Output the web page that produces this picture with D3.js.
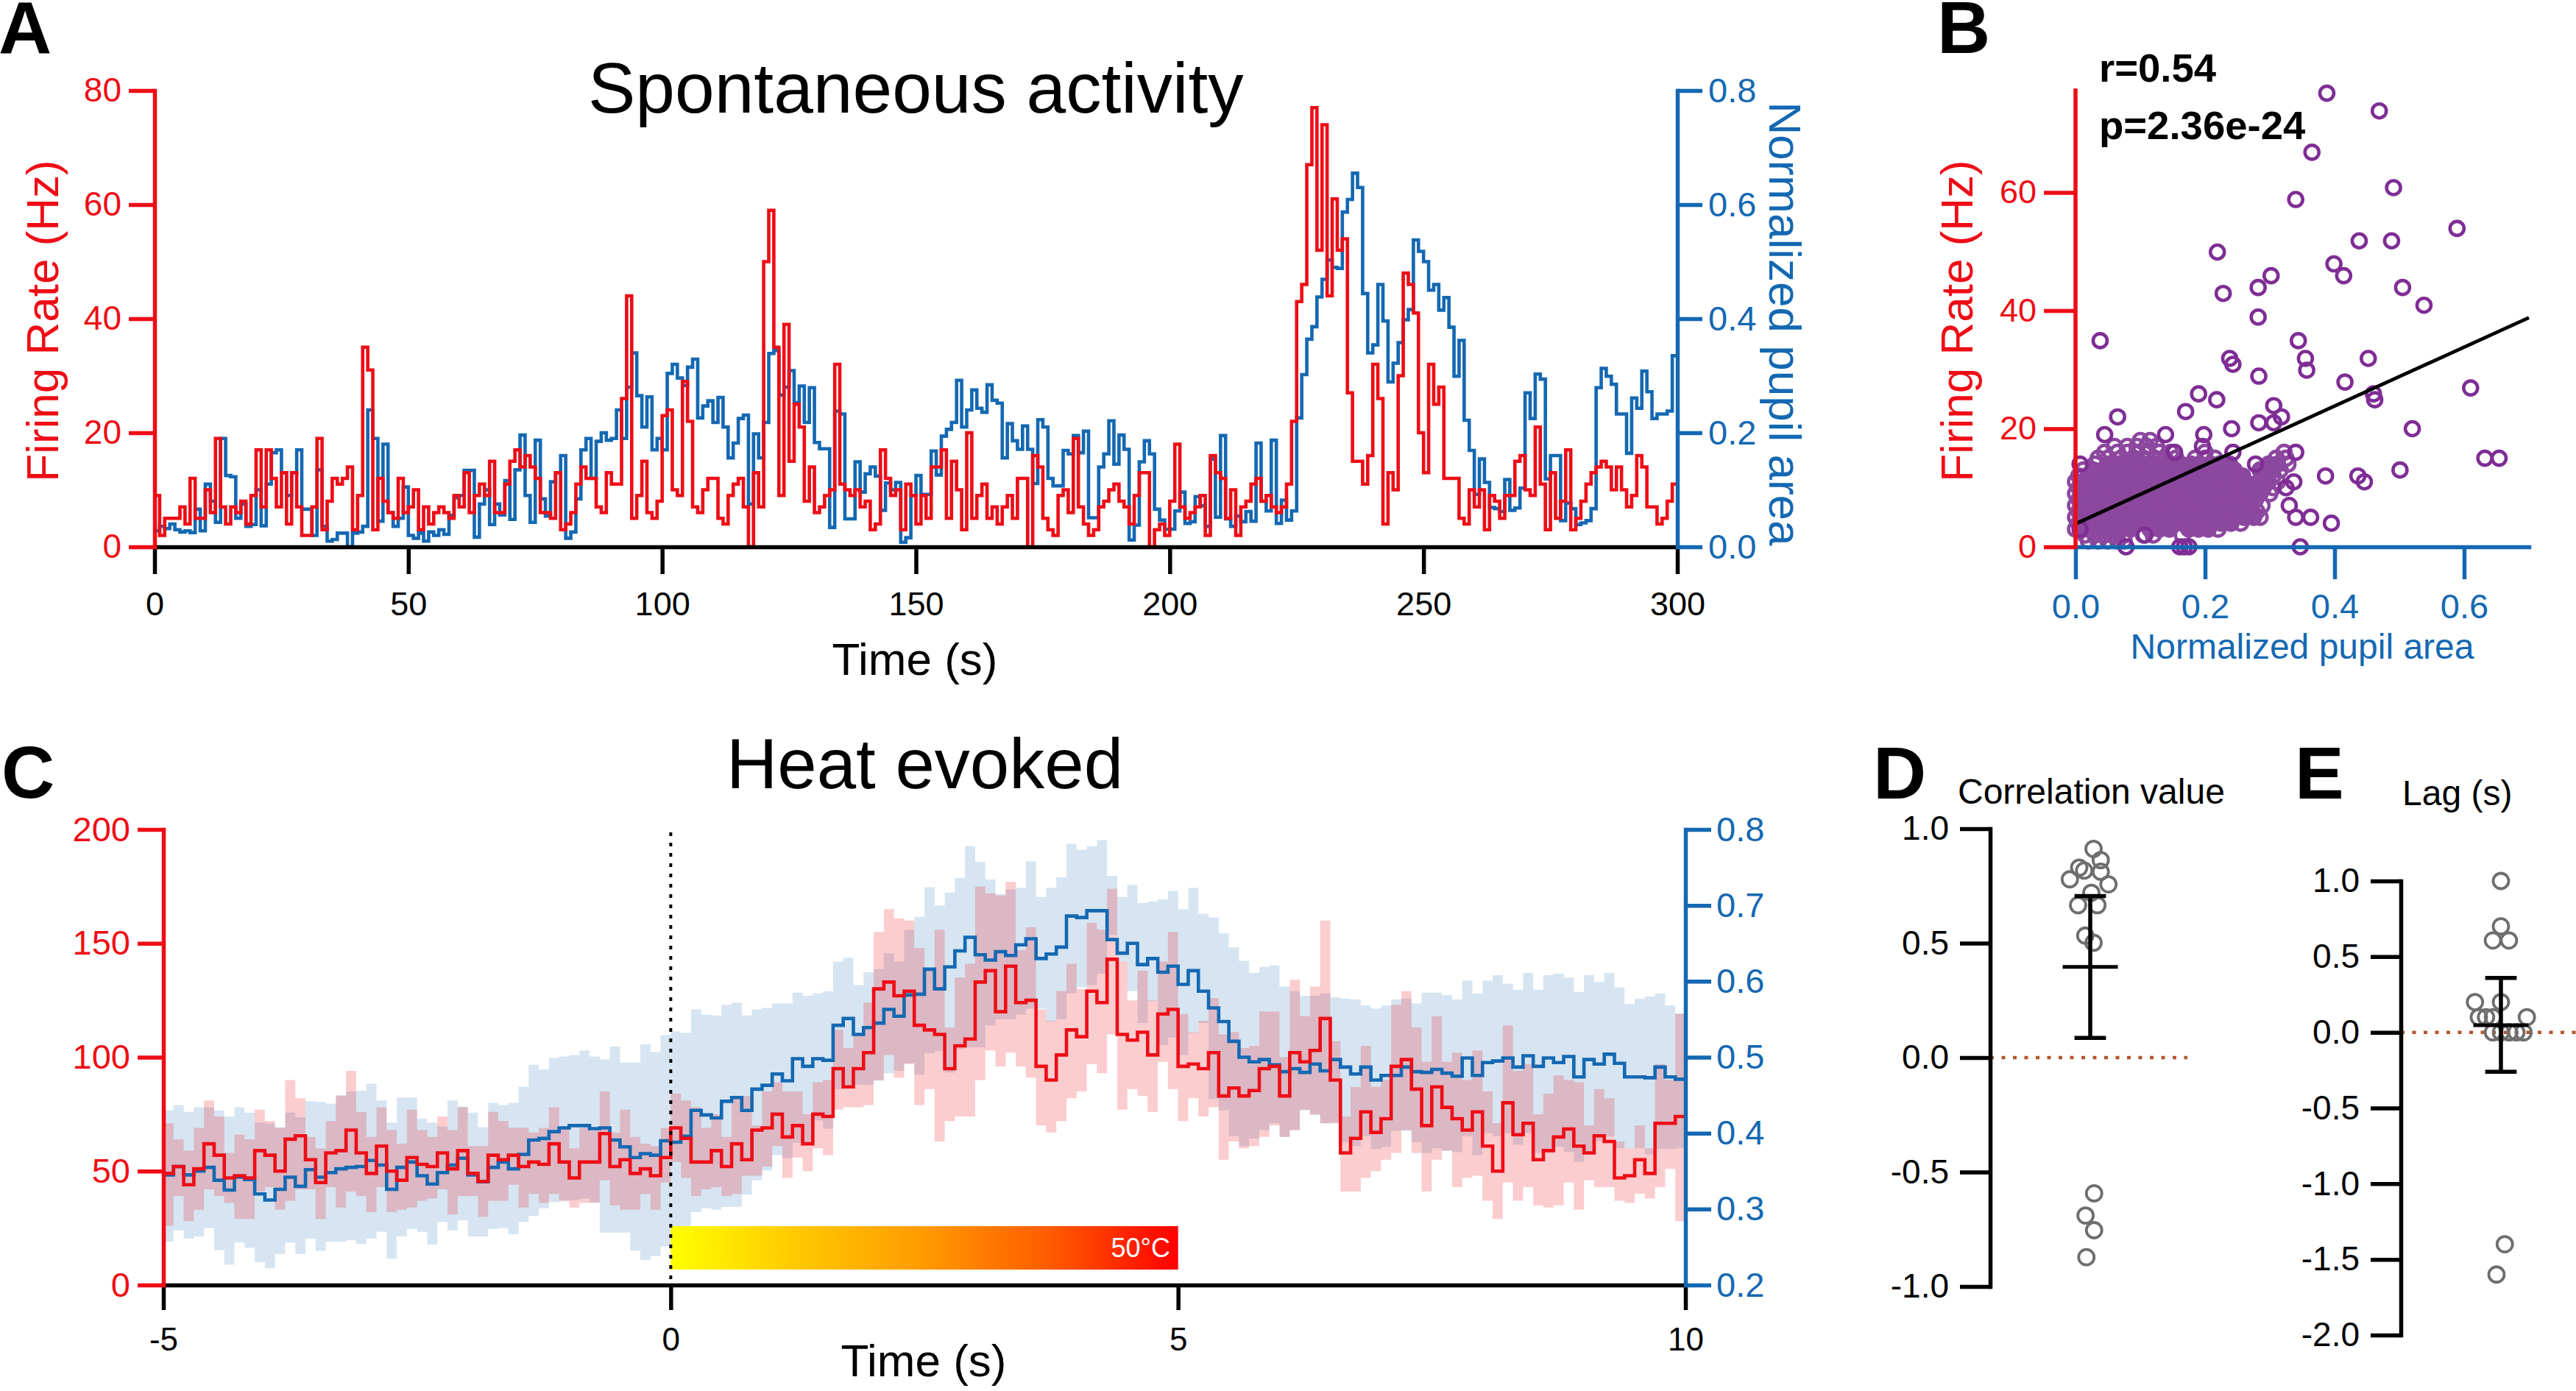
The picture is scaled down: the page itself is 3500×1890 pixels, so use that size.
<!DOCTYPE html>
<html>
<head>
<meta charset="utf-8">
<script src="https://cdn.jsdelivr.net/npm/d3@7"></script>
<style>
html,body{margin:0;padding:0;background:#fff}
svg{display:block}
text{font-family:"Liberation Sans",Arial,sans-serif}
</style>
</head>
<body>
<svg id="fig" width="3500" height="1890" viewBox="0 0 3500 1890"></svg>
<script>
// ---------- Panel A: spontaneous activity, one value per second ----------
const spontRate = [
9,2,5,5,5,7,4,12,5,5,10,6,19,7,4,7,6,8,4,9,
17,7,17,12,7,13,4,13,7,2,2,7,19,3,8,12,11,12,14,3,
9,35,31,3,12,8,6,5,12,6,7,10,3,7,4,6,7,6,5,9,
7,13,6,9,11,9,15,6,6,11,15,17,14,16,14,12,6,6,5,13,
3,4,6,11,14,12,12,7,6,13,11,11,26,44,5,9,15,6,5,8,
23,24,10,9,29,22,7,6,10,12,12,5,4,9,11,12,7,0,13,7,
50,59,35,9,39,15,25,21,8,14,6,7,9,10,32,11,10,9,10,7,
8,3,4,17,12,9,10,3,11,9,4,9,5,14,14,17,5,15,10,3,
20,5,9,11,5,7,4,7,9,5,12,12,0,16,14,5,3,2,9,10,
6,19,7,4,2,3,7,8,10,11,8,7,4,9,13,13,0,3,4,2,
8,18,7,5,6,7,9,2,16,13,12,5,10,2,7,8,11,12,8,9,
7,6,7,11,22,43,46,67,77,52,74,44,61,52,54,27,15,15,11,16,
32,26,4,13,10,30,48,46,41,20,13,32,25,28,12,12,12,5,4,10,
7,10,3,9,8,5,9,9,15,16,10,9,21,11,3,13,5,8,17,3,
5,8,11,13,14,15,14,10,14,10,7,9,16,14,7,7,4,5,8,11];
const spontPupil = [
.028,.036,.032,.04,.03,.026,.028,.025,.066,.028,.11,.08,.043,.19,.125,.123,.05,.075,.036,.039,
.10,.037,.11,.165,.17,.13,.09,.13,.17,.066,.066,.02,.135,.036,.01,.013,.024,.024,0,.024,
.026,.036,.24,.19,.045,.18,.06,.036,.05,.105,.02,.015,.024,.01,.026,.02,.03,.022,.055,.086,
.09,.134,.134,.017,.075,.10,.039,.075,.056,.116,.048,.135,.196,.09,.043,.187,.084,.054,.114,.13,
.16,.015,.026,.084,.17,.19,.12,.185,.20,.187,.19,.24,.19,.28,.34,.265,.21,.263,.17,.19,
.17,.304,.32,.296,.283,.315,.329,.226,.247,.256,.218,.262,.21,.156,.182,.225,.231,.075,.198,.156,
.218,.339,.344,.266,.28,.309,.253,.282,.218,.279,.183,.172,.172,.034,.238,.233,.049,.049,.149,.096,
.128,.14,.124,.064,.112,.10,.113,.008,.016,.09,.125,.092,.092,.168,.126,.194,.206,.218,.292,.21,
.24,.275,.243,.236,.284,.257,.252,.156,.216,.186,.171,.212,.171,.111,.223,.21,.12,.107,.107,.169,
.163,.195,.165,.203,.051,.051,.14,.163,.221,.145,.196,.171,.012,.038,.149,.186,.163,.066,.047,.031,
.031,.063,.096,.041,.044,.088,.072,.036,.154,.052,.195,.049,.036,.054,.044,.062,.045,.182,.08,.063,
.187,.041,.082,.047,.063,.226,.302,.364,.386,.438,.469,.503,.49,.488,.587,.609,.655,.63,.444,.34,
.354,.46,.396,.289,.322,.358,.398,.416,.538,.518,.50,.45,.46,.415,.437,.385,.299,.362,.222,.169,
.092,.154,.113,.069,.067,.062,.118,.064,.068,.103,.27,.225,.303,.294,.119,.16,.16,.046,.077,.067,
.039,.042,.046,.067,.279,.313,.299,.285,.233,.233,.164,.261,.243,.308,.272,.225,.233,.233,.238,.335];
const spontTimeTicks = [0,50,100,150,200,250,300];
const spontRateTicks = [0,20,40,60,80];
const spontPupilTicks = [0,.2,.4,.6,.8];

// ---------- Panel B: scatter of firing rate against pupil area ----------
const scatterPupil = [.388,.469,.365,.491,.34,.589,.438,.488,.219,.399,.414,.302,.282,.505,.228,.538,.282,.038,.344,.238,.355,.452,.243,.357,.283,.416,.61,.19,.218,.46,.462,.306,.17,.065,.318,.283,.306,.241,.52,.139,.045,.198,.196,.153,.243,.34,.632,.654,.007,.278,.501,.386,.436,.446,.337,.325,.33,.34,.363,.395,.347,.168,.175,.161,.078,.007,.107];
const scatterRate = [76.8,73.8,66.8,60.8,58.8,53.9,51.8,51.8,49.9,47.9,45.9,45.9,43.9,43.9,42.9,40.9,38.9,34.9,34.9,31.9,31.9,31.9,30.9,29.9,28.9,27.9,26.9,25.9,24.9,25.9,24.9,23.9,22.9,22,22,21,21,20,20,19,19,19,17,16,16,16,15,15,14,14,13,12,12,11,11,10,7,5,5,4,0,0,0,0,0,3,2];
const clusterRates = [1,2,3,4,5,6,7,8,9,10,11,12,13,14,15,16,17,18];
const clusterPupil = [
[.02,.035,.05,.065,.075],
[.015,.03,.045,.06,.075,.105,.12,.165],
[0,.012,.027,.042,.057,.072,.085,.115,.13,.145,.175,.19,.205,.22],
[.005,.02,.035,.05,.065,.08,.1,.12,.135,.15,.165,.18,.195,.21,.225,.24,.255],
[0,.012,.027,.042,.057,.072,.09,.105,.125,.14,.155,.17,.185,.2,.215,.23,.245,.26,.275,.285],
[.005,.02,.035,.05,.065,.08,.098,.115,.13,.147,.162,.178,.192,.208,.222,.238,.252,.268,.28],
[0,.012,.027,.042,.057,.072,.088,.105,.122,.138,.155,.17,.185,.2,.215,.23,.245,.26,.272,.288],
[.005,.02,.035,.05,.065,.08,.097,.113,.13,.145,.162,.178,.192,.208,.222,.238,.25,.265,.278],
[0,.012,.027,.042,.057,.072,.09,.105,.122,.138,.155,.17,.185,.2,.215,.23,.245,.258,.285,.3],
[.005,.02,.035,.05,.065,.08,.097,.113,.13,.147,.162,.178,.192,.208,.222,.238,.255,.275,.29,.305],
[0,.012,.027,.042,.057,.072,.09,.105,.122,.138,.155,.17,.185,.2,.215,.23,.245,.262,.283,.298,.312],
[.005,.02,.035,.05,.065,.08,.097,.113,.13,.147,.162,.178,.192,.208,.222,.238,.258,.29,.305],
[.012,.027,.042,.057,.072,.09,.105,.122,.138,.155,.17,.185,.2,.215,.23,.245,.285,.3,.316],
[.03,.05,.065,.08,.097,.113,.13,.147,.162,.178,.192,.208,.222,.238,.298,.312,.328],
[.035,.05,.07,.09,.105,.122,.138,.155,.185,.2,.215,.31,.325],
[.045,.065,.08,.095,.112,.13,.147,.2,.322],
[.06,.08,.095,.11,.125],
[.1,.115]];
const fitPupil = [0,.7];
const fitRate = [3.9,38.8];
const scatterPupilTicks = [0,.2,.4,.6];
const scatterRateTicks = [0,20,40,60];

// ---------- Panel C: heat evoked, one value per 0.1 s ----------
const heatRate = [49,52,44,51,62,57,47,48,47,59,57,50,64,65.5,55,45,58,59,68,58,49,61,50,46,56,53,52,58,51,59,49,45.5,57,55,57,52,54,53,62,54,47,54,54,66.5,52,55,49,51,48,56,
69,64.4,54,54,59,52,62,55,68,69,75,65,70,62,75,74,95,87,95,102,130,133,127,129,114,112,110,95,105,108,133,138,120,140,124,125,96,90,101,112,109,129,124,143,110,107.5,111,101,119,121,
96,97,95,102,83,86.5,83,85.4,95,96,83,102,98,103,117,90,58,64.4,76,67,73,96,99,86,70,87,78,73,68,76,61,50,80,66,71,55,59,65,68.5,61,58,65.5,63,47,48,55,49,71,71,74];
const heatRateHigh = [71,64,59,69,81,74,58,66,64,77,72,69,90,82,65,60,72,83,94,76,65,78,68,62,77,68,65,74,68,78,61,61,76,72,69,69,67,69,78,69,60,69,68,85,67,77,65,62,61,69,
84,81,78,69,75,65,83,83,70,85,89,85,85,75,89,90,112,104,110,124,155,165,161,160,148,139,156,113,135,141,175,172,171,177,147,157,121,116,129,141,130,159,156,174,142,125,138,125,142,155,
119,111,116,126,110,111,104,105,120,120,100,134,118,131,160,107,74,87,105,87,90,123,129,113,98,118,98,102,90,103,85,71,114,94,97,75,84,92,90,89,70,86,82,63,60,70,60,97,90,119];
const heatRateLow = [26,39,28,33,42,39,36,29,29,41,43,33,37,42,42,29,43,34,41,39,32,43,32,33,34,37,38,42,31,39,39,30,37,37,44,34,40,36,40,37,34,36,36,46,35,33,33,40,33,45,
54,47,39,42,43,39,40,48,48,52,61,47,56,50,60,57,77,78,78,79,90,101,91,97,79,86,63,72,74,74,90,103,96,102,96,91,70,67,72,82,85,97,93,110,77,86,83,76,98,86,
72,82,74,78,55,63,60,61,65,70,65,68,77,75,71,71,41,41,47,50,55,58,68,58,41,55,59,43,47,48,37,29,45,37,43,35,34,35,45,33,46,43,43,37,36,40,38,43,51,28];
const heatPupil = [.345,.356,.345,.35,.355,.338,.325,.342,.339,.32,.312,.326,.342,.33,.352,.342,.348,.353,.355,.356,.364,.358,.326,.355,.362,.344,.333,.348,.358,.367,.345,.336,.355,.362,.353,.372,.391,.393,.402,.407,.41,.41,.406,.407,.391,.382,.368,.373,.371,.39,
.388,.396,.43,.424,.42,.442,.447,.43,.458,.463,.478,.469,.498,.488,.498,.496,.542,.551,.53,.539,.545,.563,.554,.582,.583,.616,.59,.619,.64,.658,.635,.628,.639,.634,.648,.656,.63,.636,.645,.686,.684,.693,.693,.655,.637,.65,.622,.63,.612,.62,
.596,.614,.587,.565,.547,.521,.5,.494,.497,.49,.481,.485,.48,.491,.482,.497,.487,.478,.487,.47,.476,.476,.487,.481,.48,.484,.479,.475,.499,.476,.493,.495,.499,.487,.502,.488,.499,.493,.501,.474,.497,.491,.504,.492,.474,.474,.473,.487,.474,.471];
const heatPupilHigh = [.43,.437,.428,.434,.434,.43,.422,.434,.427,.414,.413,.408,.427,.421,.442,.441,.439,.45,.455,.456,.465,.443,.414,.447,.447,.419,.414,.409,.443,.435,.427,.408,.44,.437,.44,.461,.49,.484,.499,.501,.503,.509,.501,.497,.514,.493,.493,.517,.507,.529,
.534,.532,.563,.556,.555,.569,.572,.555,.563,.565,.571,.571,.585,.581,.584,.587,.626,.631,.595,.612,.616,.637,.626,.668,.685,.724,.7,.717,.736,.778,.757,.734,.715,.721,.723,.758,.711,.723,.737,.781,.773,.778,.786,.739,.711,.727,.703,.705,.708,.719,
.695,.723,.689,.684,.663,.645,.627,.611,.619,.621,.593,.587,.581,.581,.584,.579,.577,.576,.568,.564,.568,.576,.577,.571,.585,.585,.582,.576,.601,.584,.601,.608,.597,.589,.611,.589,.608,.61,.605,.586,.608,.599,.611,.592,.57,.577,.58,.584,.568,.558];
const heatPupilLow = [.257,.272,.261,.264,.275,.246,.227,.256,.249,.23,.222,.241,.256,.241,.261,.245,.257,.257,.259,.254,.261,.27,.235,.264,.274,.27,.253,.283,.272,.285,.264,.264,.274,.275,.267,.283,.291,.301,.309,.311,.312,.314,.309,.269,.269,.269,.245,.233,.238,.251,
.262,.267,.296,.301,.299,.303,.303,.319,.338,.351,.371,.367,.387,.387,.417,.406,.458,.461,.464,.464,.469,.479,.482,.492,.477,.505,.508,.48,.511,.513,.513,.542,.55,.55,.556,.564,.564,.547,.55,.584,.592,.595,.61,.661,.626,.587,.545,.574,.516,.526,
.503,.532,.545,.445,.43,.396,.383,.393,.404,.413,.395,.404,.43,.424,.413,.414,.388,.383,.396,.379,.382,.403,.403,.388,.374,.38,.377,.375,.396,.371,.4,.396,.4,.385,.4,.374,.375,.382,.375,.362,.372,.39,.396,.38,.38,.38,.372,.379,.379,.38];
const heatTimeTicks = [-5,0,5,10];
const heatRateTicks = [0,50,100,150,200];
const heatPupilTicks = [.2,.3,.4,.5,.6,.7,.8];
const heatStart = 0, heatEnd = 5;

// ---------- Panels D and E ----------
const corrValues = [.912,.863,.83,.817,.812,.779,.757,.72,.666,.666,.533,.502,-.593,-.69,-.754,-.872];
const corrJitter = [.06,.19,-.2,-.11,.19,-.37,.33,.02,-.22,.13,-.09,.06,.07,-.085,.07,-.07];
const corrMean = .396, corrHigh = .706, corrLow = .086;
const corrTicks = [-1,-.5,0,.5,1];
const lagValues = [1,.7,.607,.607,.2,.2,.1,.1,.1,.1,0,0,0,0,0,-1.4,-1.6];
const lagJitter = [0,0,-.145,.145,-.47,0,.47,-.4,-.27,-.145,-.145,0,.15,.28,.41,.07,-.08];
const lagMean = .047, lagHigh = .36, lagLow = -.26;
const lagTicks = [-2,-1.5,-1,-.5,0,.5,1];

// ---------- Colours ----------
const RED = "#ee0d16", BLUE = "#1468b2", PURPLE = "#7f2d95", CLUSTER = "#8c479e", GREY = "#6e6e6e", DOT = "#b5562a";
const AXW = 5.5, LINEW = 4.6;

const svg = d3.select("#fig");
svg.append("rect").attr("width",3500).attr("height",1890).attr("fill","#fff");

function label(txt,x,y,size,color,opts={}){
  const t = svg.append("text").attr("x",x).attr("y",y).attr("font-size",size).attr("fill",color).text(txt);
  if(opts.anchor) t.attr("text-anchor",opts.anchor);
  if(opts.weight) t.attr("font-weight",opts.weight);
  if(opts.rotate!==undefined) t.attr("transform",`rotate(${opts.rotate} ${x} ${y})`);
  return t;
}
function drawAxis(gen,tx,ty,color,size,width=AXW){
  const g = svg.append("g").attr("transform",`translate(${tx},${ty})`).call(gen);
  g.selectAll("path.domain").attr("stroke",color).attr("stroke-width",width).attr("fill","none").attr("stroke-linecap","square");
  g.selectAll(".tick line").attr("stroke",color).attr("stroke-width",width);
  g.selectAll(".tick text").attr("fill",color).attr("font-size",size).attr("font-family",'"Liberation Sans",Arial,sans-serif');
  return g;
}
const ticked = (axis,vals,len,pad)=>axis.tickValues(vals).tickSizeInner(len).tickSizeOuter(0).tickPadding(pad);
const step = (x,y)=>d3.line().x(d=>x(d[0])).y(d=>y(d[1])).curve(d3.curveStepAfter);
const stepped = (vals,t)=>{const p=vals.map((v,i)=>[t(i),v]);p.push([t(vals.length),vals[vals.length-1]]);return p;};
const fmt1 = d=>d.toFixed(1);

// ---------- A ----------
{
  const x = d3.scaleLinear([0,300],[210,2279]);
  const yL = d3.scaleLinear([0,80],[743,123]);
  const yR = d3.scaleLinear([0,.8],[743,123]);
  svg.append("path").attr("d",step(x,yR)(stepped(spontPupil,i=>i))).attr("fill","none").attr("stroke",BLUE).attr("stroke-width",LINEW);
  svg.append("path").attr("d",step(x,yL)(stepped(spontRate,i=>i))).attr("fill","none").attr("stroke",RED).attr("stroke-width",LINEW);
  drawAxis(ticked(d3.axisBottom(x),spontTimeTicks,37,24),0,743,"#000",45);
  drawAxis(ticked(d3.axisLeft(yL),spontRateTicks,35,10),210,0,RED,46);
  drawAxis(ticked(d3.axisRight(yR),spontPupilTicks,34,8).tickFormat(fmt1),2279,0,BLUE,47);
  label("Spontaneous activity",799,153,96.5,"#000");
  label("Firing Rate (Hz)",79,436,62,RED,{anchor:"middle",rotate:-90});
  label("Normalized pupil area",2404,440,62,BLUE,{anchor:"middle",rotate:90});
  label("Time (s)",1243,917,62,"#000",{anchor:"middle"});
}
// ---------- B ----------
{
  const x = d3.scaleLinear([0,.7],[2820,3436]);
  const y = d3.scaleLinear([0,77],[743,125]);
  const ring = (px,ry,col,fill)=>svg.append("circle").attr("cx",x(px)).attr("cy",y(ry)).attr("r",9.5).attr("fill",fill).attr("stroke",col).attr("stroke-width",4.6);
  clusterRates.forEach((ry,j)=>clusterPupil[j].forEach((px,i,row)=>{
    const inner = j>1 && j<14 && i>0 && i<row.length-1;
    ring(px,ry,CLUSTER,inner?CLUSTER:"none");
  }));
  scatterPupil.forEach((px,i)=>ring(px,scatterRate[i],PURPLE,"none"));
  svg.append("line").attr("x1",x(fitPupil[0])).attr("y1",y(fitRate[0])).attr("x2",x(fitPupil[1])).attr("y2",y(fitRate[1])).attr("stroke","#000").attr("stroke-width",4.8);
  drawAxis(ticked(d3.axisBottom(x),scatterPupilTicks,44,20).tickFormat(fmt1),0,743,BLUE,47);
  drawAxis(ticked(d3.axisLeft(y),scatterRateTicks,43,10),2820,0,RED,45)
    .select("path.domain").attr("d","M0,743V123");
  label("r=0.54",2852,111,54.5,"#000",{weight:"bold"});
  label("p=2.36e-24",2852,189,54.5,"#000",{weight:"bold"});
  label("Firing Rate (Hz)",2680,436,62,RED,{anchor:"middle",rotate:-90});
  label("Normalized pupil area",3128,895,48,BLUE,{anchor:"middle"});
}
// ---------- C ----------
{
  const x = d3.scaleLinear([-5,10],[222,2290]);
  const yL = d3.scaleLinear([0,200],[1746,1127]);
  const yR = d3.scaleLinear([.2,.8],[1746,1127]);
  const t = i=>-5+i*.1;
  const band = (low,high,y)=>d3.area().x(i=>x(t(i))).y0(i=>y(low[Math.min(i,low.length-1)])).y1(i=>y(high[Math.min(i,high.length-1)])).curve(d3.curveStepAfter)(d3.range(low.length+1));
  svg.append("path").attr("d",band(heatPupilLow,heatPupilHigh,yR)).attr("fill","rgb(26,110,180)").attr("fill-opacity",.18);
  svg.append("path").attr("d",band(heatRateLow,heatRateHigh,yL)).attr("fill","rgb(237,28,36)").attr("fill-opacity",.22);
  svg.append("path").attr("d",step(x,yR)(stepped(heatPupil,t))).attr("fill","none").attr("stroke",BLUE).attr("stroke-width",LINEW);
  svg.append("path").attr("d",step(x,yL)(stepped(heatRate,t))).attr("fill","none").attr("stroke",RED).attr("stroke-width",LINEW);
  const defs = svg.append("defs");
  const grad = defs.append("linearGradient").attr("id","heat");
  [[0,"#ffff00"],[.25,"#ffc800"],[.5,"#ff9a00"],[.75,"#ff5a00"],[1,"#ff0000"]].forEach(s=>grad.append("stop").attr("offset",s[0]).attr("stop-color",s[1]));
  svg.append("rect").attr("x",x(heatStart)).attr("y",1666).attr("width",x(heatEnd)-x(heatStart)).attr("height",59).attr("fill","url(#heat)");
  label("50°C",1590,1708,36,"#fff",{anchor:"end"});
  svg.append("line").attr("x1",x(0)).attr("x2",x(0)).attr("y1",1131).attr("y2",1746).attr("stroke","#000").attr("stroke-width",4).attr("stroke-dasharray","5 9");
  drawAxis(ticked(d3.axisBottom(x),heatTimeTicks,34,24).tickFormat(String),0,1746,"#000",44);
  drawAxis(ticked(d3.axisLeft(yL),heatRateTicks,35,10),222,0,RED,47);
  drawAxis(ticked(d3.axisRight(yR),heatPupilTicks,35,7).tickFormat(fmt1),2290,0,BLUE,47);
  label("Heat evoked",987,1071,96,"#000");
  label("Time (s)",1255,1870,62,"#000",{anchor:"middle"});
}
// ---------- D and E ----------
function dotPlot(axisX,y,ticks,centre,values,jitter,mean,high,low,dotEnd){
  const jx = d3.scaleLinear([-1,1],[centre-75,centre+75]);
  svg.append("line").attr("x1",axisX).attr("x2",dotEnd).attr("y1",y(0)).attr("y2",y(0)).attr("stroke",DOT).attr("stroke-width",4.5).attr("stroke-dasharray","5 10.5");
  values.forEach((v,i)=>svg.append("circle").attr("cx",jx(jitter[i])).attr("cy",y(v)).attr("r",10.5).attr("fill","none").attr("stroke",GREY).attr("stroke-width",3.8));
  const seg=(a,b,c,d,w=5.5)=>svg.append("line").attr("x1",a).attr("x2",b).attr("y1",c).attr("y2",d).attr("stroke","#000").attr("stroke-width",w);
  seg(jx(0),jx(0),y(high),y(low));
  seg(jx(-.5),jx(.5),y(mean),y(mean),5);
  seg(jx(-.285),jx(.285),y(high),y(high));
  seg(jx(-.285),jx(.285),y(low),y(low));
  drawAxis(ticked(d3.axisLeft(y),ticks,41,15).tickFormat(fmt1),axisX,0,"#000",46);
}
dotPlot(2704,d3.scaleLinear([-1,1],[1748,1126]),corrTicks,2840,corrValues,corrJitter,corrMean,corrHigh,corrLow,2972);
dotPlot(3262,d3.scaleLinear([-2,1],[1814,1197]),lagTicks,3398,lagValues,lagJitter,lagMean,lagHigh,lagLow,3500);
label("Correlation value",2660,1092,48,"#000");
label("Lag (s)",3264,1094,48,"#000");

// ---------- Panel letters ----------
label("A",-2,73,100,"#000",{weight:"bold"});
label("B",2632,72,100,"#000",{weight:"bold"});
label("C",2,1084,100,"#000",{weight:"bold"});
label("D",2545,1085,100,"#000",{weight:"bold"});
label("E",3118,1085,100,"#000",{weight:"bold"});
</script>
</body>
</html>
